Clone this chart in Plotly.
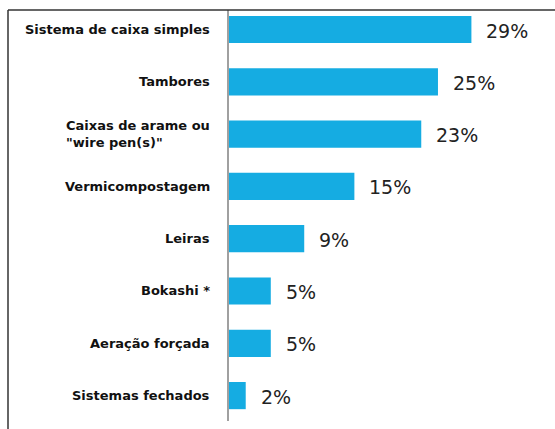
import plotly.graph_objects as go

# Composting methods and share of respondents using each (%)
categories = [
    "Sistema de caixa simples",
    "Tambores",
    "Caixas de arame ou<br>\"wire pen(s)\"",
    "Vermicompostagem",
    "Leiras",
    "Bokashi *",
    "Aeração forçada",
    "Sistemas fechados",
]
values = [29, 25, 23, 15, 9, 5, 5, 2]

BAR_COLOR = "#15ACE2"
W, H = 555, 429

fig = go.Figure(
    go.Bar(
        x=values,
        y=categories,
        orientation="h",
        width=0.52,
        marker=dict(color=BAR_COLOR, line=dict(width=0)),
        hoverinfo="skip",
    )
)

# Category labels to the left of the axis (right-anchored, lines left-aligned)
for cat in categories:
    fig.add_annotation(
        x=0, y=cat, xref="x", yref="y",
        text=cat, showarrow=False,
        xanchor="right", yanchor="middle", xshift=-17, align="left",
        font=dict(family="DejaVu Sans", size=13, color="#111111", weight="bold"),
    )

# Percentage labels at the end of each bar
for cat, v in zip(categories, values):
    fig.add_annotation(
        x=v, y=cat, xref="x", yref="y",
        text=f"{v}%", showarrow=False,
        xanchor="left", yanchor="middle", xshift=13, yshift=-1,
        font=dict(family="DejaVu Sans", size=19, color="#222222"),
    )

left = 229
plot_w = W - left
fig.update_layout(
    width=W, height=H,
    margin=dict(l=left, r=0, t=10, b=8, pad=0),
    paper_bgcolor="white",
    plot_bgcolor="white",
    showlegend=False,
    xaxis=dict(range=[0, 39], visible=False, fixedrange=True),
    yaxis=dict(
        type="category",
        categoryorder="array",
        categoryarray=categories,
        range=[7.486, -0.373],
        showticklabels=False,
        ticks="",
        showgrid=False,
        zeroline=False,
        showline=True,
        linecolor="#A0A0A0",
        linewidth=2,
        fixedrange=True,
    ),
    shapes=[
        # outer frame: top and left edges
        dict(type="line", xref="paper", yref="paper",
             x0=(8 - left) / plot_w, x1=1.05, y0=1.0, y1=1.0,
             line=dict(color="#333333", width=1.5)),
        dict(type="line", xref="paper", yref="paper",
             x0=(8 - left) / plot_w, x1=(8 - left) / plot_w, y0=1.0, y1=-0.1,
             line=dict(color="#333333", width=1.5)),
    ],
)

fig.write_html("out.html")
